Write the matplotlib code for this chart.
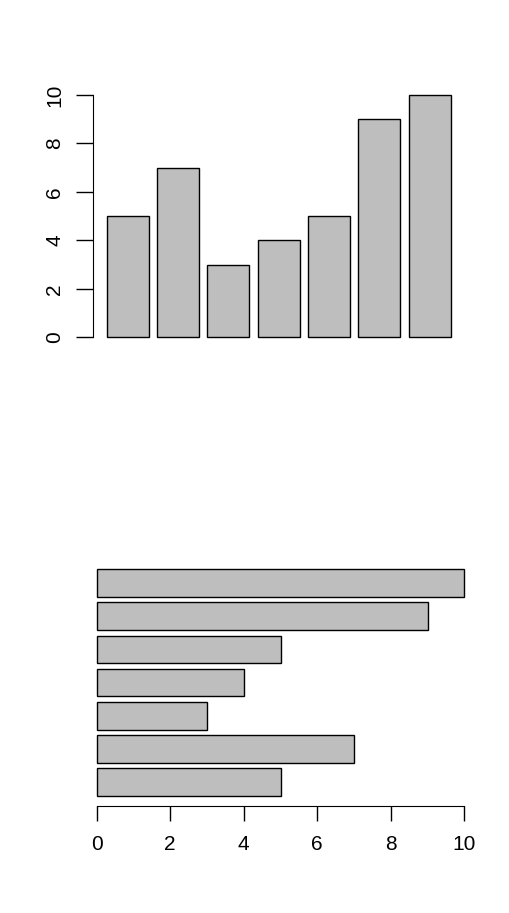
import matplotlib.pyplot as plt

values = [5, 7, 3, 4, 5, 9, 10]
ticks = [0, 2, 4, 6, 8, 10]

plt.rcParams['font.family'] = ['Liberation Sans', 'DejaVu Sans']

fig = plt.figure(figsize=(5.09, 9.13), dpi=100)

# bar centres as R's barplot places them (width 1, space 0.2)
pos = [0.7 + 1.2 * i for i in range(len(values))]

# top: vertical bars
ax1 = fig.add_axes([0.1821, 0.6306, 0.7198, 0.2654])
ax1.bar(pos, values, width=1, color='#bebebe', edgecolor='black',
        linewidth=1, clip_on=False)
ax1.set_xlim(-0.133, 8.6)
ax1.set_ylim(0, 10)
ax1.set_yticks(ticks)
ax1.set_yticklabels([str(t) for t in ticks], rotation=90, va='center', fontsize=15)
ax1.tick_params(axis='y', length=12, width=1, pad=8.5)
ax1.set_xticks([])
for s in ['top', 'right', 'bottom']:
    ax1.spines[s].set_visible(False)

# bottom: horizontal bars
ax2 = fig.add_axes([0.19, 0.1175, 0.7222, 0.2692])
ax2.barh(pos, values, height=1, color='#bebebe', edgecolor='black',
         linewidth=1, clip_on=False)
ax2.set_xlim(0, 10)
ax2.set_ylim(-0.152, 8.736)
ax2.set_xticks(ticks)
ax2.set_xticklabels([str(t) for t in ticks], fontsize=15)
ax2.tick_params(axis='x', length=11, width=1, pad=10)
ax2.set_yticks([])
for s in ['top', 'right', 'left']:
    ax2.spines[s].set_visible(False)

fig.savefig('out.png', dpi=100)
